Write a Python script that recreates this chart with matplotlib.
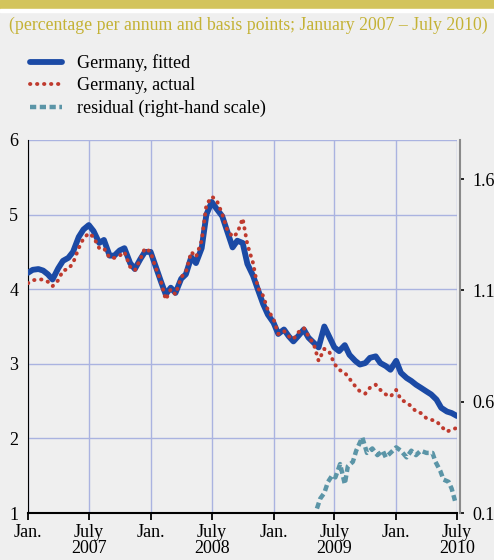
import pandas as pd
import matplotlib
matplotlib.use("Agg")
import matplotlib.pyplot as plt
from matplotlib.patches import Rectangle

# half-monthly readings, Jan 2007 - July 2010
dates = pd.date_range("2007-01-01", "2010-07-01", freq="SMS")

fitted = [4.22, 4.26, 4.27, 4.25, 4.20, 4.13, 4.28, 4.38, 4.42, 4.50,
          4.70, 4.80, 4.86, 4.78, 4.62, 4.66, 4.45, 4.45, 4.52, 4.55,
          4.35, 4.27, 4.40, 4.50, 4.50, 4.32, 4.10, 3.93, 4.02, 3.95,
          4.14, 4.20, 4.43, 4.35, 4.55, 5.00, 5.17, 5.08, 4.98, 4.79,
          4.56, 4.65, 4.62, 4.34, 4.18, 4.00, 3.80, 3.66, 3.55, 3.40,
          3.46, 3.37, 3.30, 3.37, 3.46, 3.35, 3.28, 3.22, 3.50, 3.37,
          3.22, 3.17, 3.25, 3.12, 3.04, 2.99, 3.01, 3.08, 3.10, 3.01,
          2.97, 2.92, 3.04, 2.88, 2.81, 2.77, 2.72, 2.68, 2.63, 2.59,
          2.52, 2.41, 2.36, 2.34, 2.30]

actual = [4.08, 4.12, 4.13, 4.13, 4.10, 4.04, 4.12, 4.25, 4.27, 4.35,
          4.55, 4.68, 4.75, 4.70, 4.55, 4.55, 4.42, 4.42, 4.45, 4.50,
          4.30, 4.25, 4.40, 4.55, 4.50, 4.30, 4.10, 3.86, 4.00, 3.93,
          4.16, 4.23, 4.50, 4.43, 4.65, 5.13, 5.24, 5.20, 5.01, 4.81,
          4.70, 4.75, 4.95, 4.60, 4.35, 4.02, 3.91, 3.72, 3.60, 3.40,
          3.44, 3.37, 3.33, 3.42, 3.48, 3.37, 3.26, 3.04, 3.20, 3.17,
          3.00, 2.92, 2.88, 2.80, 2.70, 2.63, 2.60, 2.68, 2.72, 2.65,
          2.59, 2.56, 2.65, 2.52, 2.48, 2.43, 2.36, 2.34, 2.27, 2.25,
          2.23, 2.16, 2.09, 2.12, 2.14]

resid_dates = pd.to_datetime([
    "2009-05-10", "2009-05-20", "2009-06-01", "2009-06-12", "2009-06-25",
    "2009-07-04", "2009-07-18", "2009-08-01", "2009-08-10", "2009-08-25",
    "2009-09-04", "2009-09-22", "2009-10-06", "2009-10-22", "2009-11-06",
    "2009-11-22", "2009-12-01", "2009-12-15", "2010-01-01", "2010-01-15",
    "2010-02-01", "2010-02-15", "2010-03-01", "2010-03-15", "2010-04-01",
    "2010-04-19", "2010-04-28", "2010-05-12", "2010-05-22", "2010-06-06",
    "2010-06-15", "2010-06-25"])
residual = [0.12, 0.165, 0.19, 0.24, 0.27, 0.26, 0.32, 0.23, 0.31, 0.33,
            0.38, 0.44, 0.37, 0.39, 0.36, 0.38, 0.35, 0.37, 0.395, 0.38,
            0.35, 0.38, 0.36, 0.38, 0.37, 0.37, 0.33, 0.29, 0.25, 0.24,
            0.21, 0.155]

bg = "#efefef"
plt.rcParams["font.family"] = ["Liberation Serif", "DejaVu Serif"]

fig = plt.figure(figsize=(4.94, 5.6), dpi=100, facecolor=bg)
fig.patches.append(Rectangle((0, 1 - 9 / 560), 1, 9 / 560, transform=fig.transFigure,
                             color="#d3c45c", zorder=0))
fig.patches.append(Rectangle((0, 1 - 12 / 560), 1, 3 / 560, transform=fig.transFigure,
                             color="white", zorder=0))
fig.text(0.018, 1 - 25 / 560, "(percentage per annum and basis points; January 2007 \u2013 July 2010)",
         color="#c4b235", fontsize=12.8, va="center", ha="left")

ax = fig.add_axes([28 / 494, 47 / 560, 429 / 494, 373 / 560])
ax.set_facecolor(bg)
ax2 = ax.twinx()

l1, = ax.plot(dates, fitted, color="#1b4aa5", lw=4.2, solid_capstyle="round", zorder=3)
l2, = ax.plot(dates, actual, color="#bf3a2e", lw=2.8, linestyle=(0, (0.1, 1.7)),
              dash_capstyle="round", zorder=4)
l3, = ax2.plot(resid_dates, residual, color="#5b95a7", lw=3.2, linestyle=(0, (1.4, 0.8)))

ax.set_ylim(1, 6)
ax.set_yticks([1, 2, 3, 4, 5, 6])
ax2.set_ylim(0.1, 1.776)
ax2.set_yticks([0.1, 0.6, 1.1, 1.6])
ax2.set_yticklabels(["0.1", "0.6", "1.1", "1.6"])

ticks = pd.date_range("2007-01-01", "2010-07-01", freq="6MS")
ax.set_xlim(ticks[0], ticks[-1])
ax.set_xticks(ticks)
ax.set_xticklabels(["Jan." if d.month == 1 else "July\n%d" % d.year for d in ticks],
                   linespacing=0.95)

ax.grid(True, color="#aab3e0", lw=1.0)
ax.set_axisbelow(True)
for s in ["top", "right"]:
    ax.spines[s].set_visible(False)
for s in ["top", "left", "bottom"]:
    ax2.spines[s].set_visible(False)
ax.spines["left"].set_color("black")
ax.spines["bottom"].set_color("black")
ax.spines["bottom"].set_linewidth(1.5)
ax2.spines["right"].set_color("#8a8a8a")
ax2.spines["right"].set_linewidth(1.5)
ax2.spines["right"].set_position(("outward", 2))

ax.tick_params(axis="y", length=0, pad=7, labelsize=13)
ax.tick_params(axis="x", length=5, width=1.3, direction="out", pad=3, labelsize=13)
ax2.tick_params(axis="y", length=3, width=1.2, color="black", pad=6, labelsize=13)

fig.legend([l1, l2, l3], ["Germany, fitted", "Germany, actual", "residual (right-hand scale)"],
           loc="upper left", bbox_to_anchor=(30 / 494, 1 - 54 / 560), frameon=False,
           borderpad=0, borderaxespad=0,
           fontsize=13, handlelength=1.75, handletextpad=0.85, labelspacing=0.3)

fig.savefig("out.png", dpi=100, facecolor=bg)
